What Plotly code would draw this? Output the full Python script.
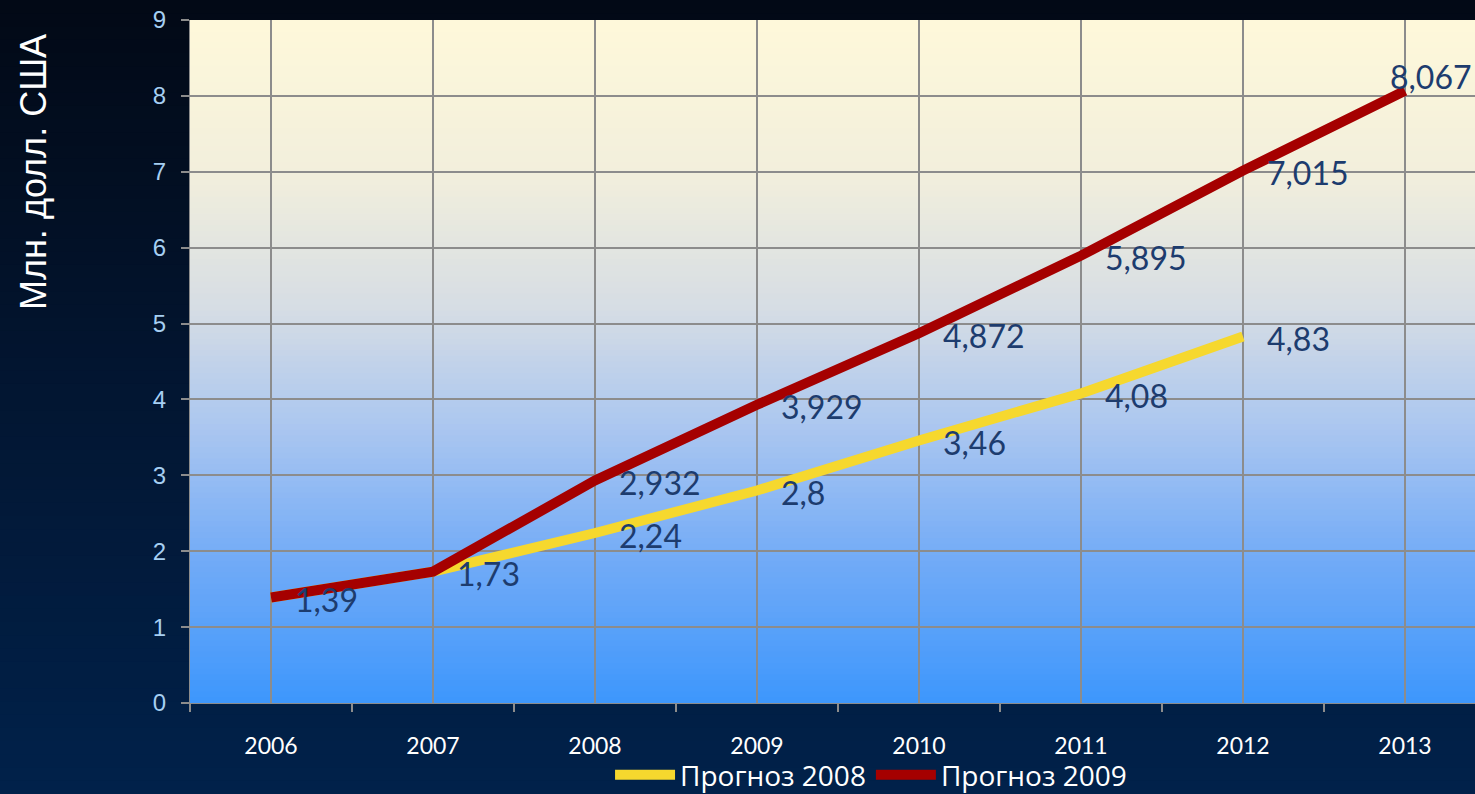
import plotly.graph_objects as go

years = ["2006", "2007", "2008", "2009", "2010", "2011", "2012", "2013"]
forecast_2008 = [1.39, 1.73, 2.24, 2.8, 3.46, 4.08, 4.83, None]
forecast_2009 = [1.39, 1.73, 2.932, 3.929, 4.872, 5.895, 7.015, 8.067]
series_names = ["Прогноз 2008", "Прогноз 2009"]
y_title = "Млн. долл. США"

YELLOW = "#f6d82e"
RED = "#a50000"
LABEL = "#1d3c6e"
GRID = "#8c8c8c"

W, H = 1475, 794
ML, MR, MT, MB = 190, 0, 20, 91
PW, PH = W - ML - MR, H - MT - MB


def lerp(c1, c2, t):
    return tuple(round(a + (b - a) * t) for a, b in zip(c1, c2))


def grad(stops, t):
    for (t0, c0), (t1, c1) in zip(stops, stops[1:]):
        if t0 <= t <= t1:
            return lerp(c0, c1, (t - t0) / (t1 - t0) if t1 > t0 else 0)
    return stops[-1][1]


shapes = []
# page background gradient (top -> bottom)
page_stops = [(0, (2, 9, 22)), (0.5, (2, 22, 50)), (1, (1, 33, 74))]
N = 60
for i in range(N):
    t = i / (N - 1)
    c = grad(page_stops, t)
    y_top = 1 + MT / PH - i * (H / PH) / N
    y_bot = y_top - (H / PH) / N - 0.003
    shapes.append(dict(type="rect", xref="paper", yref="paper",
                       x0=-ML / PW - 0.01, x1=1.01, y0=y_bot, y1=y_top,
                       fillcolor="rgb(%d,%d,%d)" % c, line=dict(width=0), layer="below"))
# plot area gradient (top -> bottom)
plot_stops = [(0, (254, 248, 218)), (0.22, (242, 239, 220)), (0.42, (214, 221, 228)),
              (0.6, (170, 198, 240)), (0.8, (112, 170, 247)), (1, (62, 151, 252))]
N = 120
for i in range(N):
    t = i / (N - 1)
    c = grad(plot_stops, t)
    y_top = 1 - i / N
    y_bot = max(0, y_top - 1 / N - 0.002)
    shapes.append(dict(type="rect", xref="paper", yref="paper",
                       x0=0, x1=1, y0=y_bot, y1=y_top,
                       fillcolor="rgb(%d,%d,%d)" % c, line=dict(width=0), layer="below"))

fig = go.Figure()
fig.add_trace(go.Scatter(x=years, y=forecast_2008, name=series_names[0], mode="lines",
                         line=dict(color=YELLOW, width=10), connectgaps=False))
fig.add_trace(go.Scatter(x=years, y=forecast_2009, name=series_names[1], mode="lines",
                         line=dict(color=RED, width=10)))
# invisible trace for boundary tick axis
fig.add_trace(go.Scatter(x=[0], y=[0], xaxis="x2", mode="markers",
                         marker=dict(opacity=0), showlegend=False, hoverinfo="skip"))


def fmt(v):
    return str(v).replace(".", ",")


annotations = []
for i, v in enumerate(forecast_2008):
    if v is None:
        continue
    annotations.append(dict(x=i, y=v, xref="x", yref="y", text=fmt(v), showarrow=False,
                            xanchor="left", yanchor="middle", xshift=22, yshift=-2,
                            font=dict(family="Lato", size=32, color=LABEL)))
for i, v in enumerate(forecast_2009):
    if forecast_2008[i] is not None and forecast_2008[i] == v:
        continue
    last = i == len(years) - 1
    annotations.append(dict(x=i, y=v, xref="x", yref="y", text=fmt(v), showarrow=False,
                            xanchor="left", yanchor="middle",
                            xshift=-17 if last else 22, yshift=14 if last else -2,
                            font=dict(family="Lato", size=32, color=LABEL)))
annotations.append(dict(x=-(ML - 33) / PW, y=(H - MB - 172) / PH, xref="paper", yref="paper",
                        text=y_title, textangle=-90, showarrow=False,
                        xanchor="center", yanchor="middle",
                        font=dict(family="Liberation Sans", size=36, color="white")))

fig.update_layout(
    width=W, height=H,
    margin=dict(l=ML, r=MR, t=MT, b=MB, pad=0, autoexpand=False),
    paper_bgcolor="#021a3c",
    plot_bgcolor="rgba(0,0,0,0)",
    shapes=shapes,
    annotations=annotations,
    showlegend=True,
    legend=dict(orientation="h", x=0.53, xanchor="center",
                yref="container", y=1 - 775 / H, yanchor="middle",
                font=dict(family="Open Sans", size=28, color="white"),
                bgcolor="rgba(0,0,0,0)", itemwidth=60, tracegroupgap=0),
    xaxis=dict(type="category", range=[-0.5, -0.5 + PW / 162], showgrid=True,
               gridcolor=GRID, gridwidth=1.5, ticks="", showline=True, linecolor=GRID,
               linewidth=1, tickfont=dict(family="Lato", size=23, color="white"),
               ticklabelstandoff=22, zeroline=False, automargin=False),
    xaxis2=dict(overlaying="x", range=[-0.5, -0.5 + PW / 162], showgrid=False,
                tickvals=[k - 0.5 for k in range(8)], ticks="outside", ticklen=8,
                tickcolor=GRID, tickwidth=1.5, showticklabels=False, zeroline=False,
                showline=False, side="bottom", automargin=False),
    yaxis=dict(range=[0, 9], dtick=1, showgrid=True, gridcolor=GRID, gridwidth=1.5,
               ticks="outside", ticklen=8, tickcolor=GRID, tickwidth=1.5,
               showline=True, linecolor=GRID, linewidth=1, zeroline=False,
               tickfont=dict(family="Liberation Sans", size=24, color="#a6cff2"),
               ticklabelstandoff=10, automargin=False),
)

fig.write_html("out.html", config={"displayModeBar": False},
               post_script="document.body.style.margin='0';document.body.style.overflow='hidden';")
